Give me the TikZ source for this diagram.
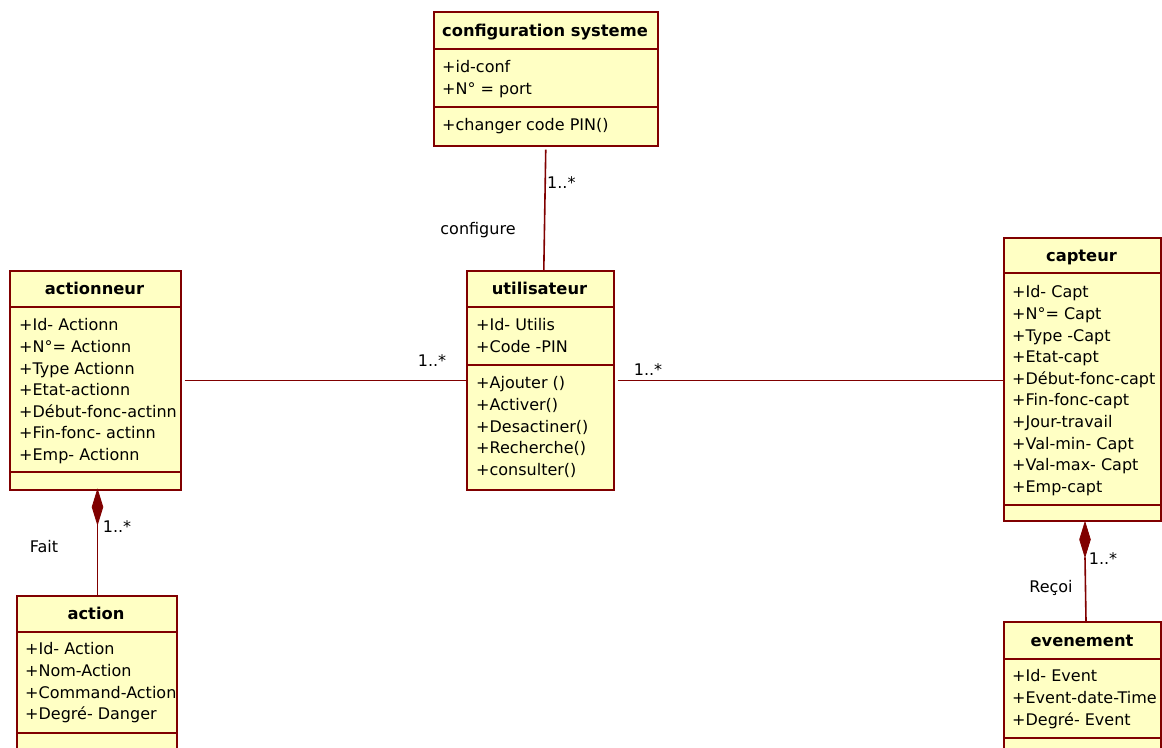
\documentclass[tikz,border=0pt]{standalone}
\usepackage{fontspec}
\setmainfont{DejaVu Sans}
\usetikzlibrary{shapes.geometric}
\definecolor{umlfill}{HTML}{FFFFC4}
\definecolor{umlline}{HTML}{800000}
\begin{document}
\begin{tikzpicture}[x=1pt,y=-1pt,
  classbox/.style={rectangle, draw=umlline, fill=umlfill, line width=1.6pt, anchor=north west, inner sep=0pt},
  divider/.style={draw=umlline, line width=1.6pt},
  classtitle/.style={font=\fontsize{16.3}{19}\selectfont\bfseries, anchor=base, inner sep=0pt},
  members/.style={font=\fontsize{16}{21.6}\selectfont, anchor=north west, inner sep=0pt, align=left},
  assoc/.style={draw=umlline, line width=1.6pt},
  lbl/.style={font=\fontsize{16}{19}\selectfont, anchor=base, inner sep=0pt},
  compo/.style={diamond, draw=umlline, fill=umlline, line width=0.8pt, inner sep=0pt, minimum width=11pt, minimum height=35pt}
]
\useasboundingbox (0,0) rectangle (1162,747);
\clip (0,0) rectangle (1162,747);

% configuration systeme
\node[classbox, minimum width=224pt, minimum height=134pt] (config) at (433,11) {};
\draw[divider] (config.north west |- 0,49) -- (config.north east |- 0,49);
\draw[divider] (config.north west |- 0,107) -- (config.north east |- 0,107);
\node[classtitle] (configT) at (545,36) {configuration systeme};
\node[members] (configA) at (442,57.5) {\strut+id-conf\\+N° = port};
\node[members] (configO) at (442,115.5) {\strut+changer code PIN()};

% utilisateur
\node[classbox, minimum width=147pt, minimum height=219pt] (util) at (466,270) {};
\draw[divider] (util.north west |- 0,307) -- (util.north east |- 0,307);
\draw[divider] (util.north west |- 0,365) -- (util.north east |- 0,365);
\node[classtitle] (utilT) at (539.5,294.5) {utilisateur};
\node[members] (utilA) at (476,315.5) {\strut+Id- Utilis\\+Code -PIN};
\node[members] (utilO) at (476,373.5) {\strut+Ajouter ()\\+Activer()\\+Desactiner()\\+Recherche()\\+consulter()};

% actionneur
\node[classbox, minimum width=171pt, minimum height=219pt] (actionneur) at (9,270) {};
\draw[divider] (actionneur.north west |- 0,307) -- (actionneur.north east |- 0,307);
\draw[divider] (actionneur.north west |- 0,472) -- (actionneur.north east |- 0,472);
\node[classtitle] (actionneurT) at (94.5,294.5) {actionneur};
\node[members] (actionneurA) at (19,315.5) {\strut+Id- Actionn\\+N°= Actionn\\+Type Actionn\\+Etat-actionn\\+Début-fonc-actinn\\+Fin-fonc- actinn\\+Emp- Actionn};

% capteur
\node[classbox, minimum width=157pt, minimum height=283pt] (capteur) at (1003,237) {};
\draw[divider] (capteur.north west |- 0,273) -- (capteur.north east |- 0,273);
\draw[divider] (capteur.north west |- 0,505) -- (capteur.north east |- 0,505);
\node[classtitle] (capteurT) at (1081.5,261) {capteur};
\node[members] (capteurA) at (1012,282.5) {\strut+Id- Capt\\+N°= Capt\\+Type -Capt\\+Etat-capt\\+Début-fonc-capt\\+Fin-fonc-capt\\+Jour-travail\\+Val-min- Capt\\+Val-max- Capt\\+Emp-capt};

% action
\node[classbox, minimum width=160pt, minimum height=170pt] (action) at (16,595) {};
\draw[divider] (action.north west |- 0,632) -- (action.north east |- 0,632);
\draw[divider] (action.north west |- 0,733) -- (action.north east |- 0,733);
\node[classtitle] (actionT) at (96,619) {action};
\node[members] (actionA) at (25,639.5) {\strut+Id- Action\\+Nom-Action\\+Command-Action\\+Degré- Danger};

% evenement
\node[classbox, minimum width=157pt, minimum height=150pt] (event) at (1003,621) {};
\draw[divider] (event.north west |- 0,659) -- (event.north east |- 0,659);
\draw[divider] (event.north west |- 0,738) -- (event.north east |- 0,738);
\node[classtitle] (eventT) at (1082,646) {evenement};
\node[members] (eventA) at (1012,666.5) {\strut+Id- Event\\+Event-date-Time\\+Degré- Event};

% associations
\draw[assoc, shorten <=3pt] (config.south) -- ([xshift=3.5pt]util.north);
\draw[assoc, shorten <=3pt] (actionneur.east) -- (util.west);
\draw[assoc, shorten <=3pt] (util.east) -- (util.east -| capteur.west);

% compositions
\node[compo] (d1) at (97.5,507) {};
\draw[assoc] (d1.south) -- (d1.south |- action.north);
\node[compo] (d2) at (1085,539.5) {};
\draw[assoc] (d2.south) -- ([xshift=1pt]d2.south |- event.north);

% labels
\node[lbl, anchor=base west] (m1) at (547,188.5) {1..*};
\node[lbl] (n1) at (478,234.5) {configure};
\node[lbl] (m2) at (432,366.5) {1..*};
\node[lbl] (m3) at (648,375.5) {1..*};
\node[lbl] (n2) at (44,552.5) {Fait};
\node[lbl] (m4) at (117,532.5) {1..*};
\node[lbl] (n3) at (1051,592.5) {Reçoi};
\node[lbl] (m5) at (1103,564.5) {1..*};
\end{tikzpicture}
\end{document}
